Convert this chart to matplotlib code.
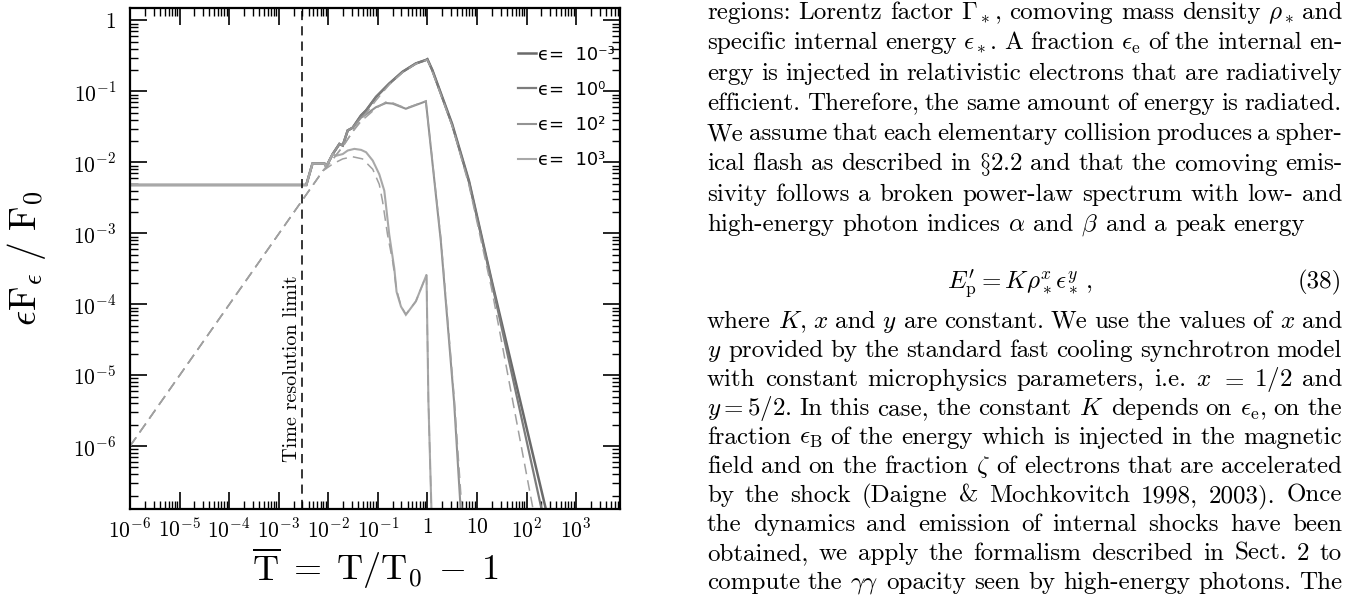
import numpy as np
import matplotlib

matplotlib.use("Agg")
import matplotlib.pyplot as plt
from matplotlib.ticker import FixedLocator, LogLocator, FuncFormatter, NullFormatter

plt.rcParams["mathtext.fontset"] = "cm"

W, H = 1358, 595

# --- light curves ---------------------------------------------------------
# shared early part of all solid curves (before the time resolution limit)
t_early = [1e-6, 3.6e-3, 4.8e-3, 8.4e-3, 9.1e-3, 0.0123]
f_early = [4.8e-3, 4.8e-3, 9.6e-3, 9.6e-3, 8.7e-3, 0.0131]

t_e3m = [0.0168, 0.0196, 0.0247, 0.0311, 0.0459, 0.058, 0.092, 0.17, 0.315,
         0.586, 0.93, 1.0, 1.26, 3.15, 6.9, 20.0, 300.0]
f_e3m = [0.0182, 0.0173, 0.0282, 0.0308, 0.0459, 0.054, 0.0836, 0.129, 0.189,
         0.248, 0.277, 0.285, 0.2, 0.035, 5.5e-3, 2.1e-4, 7.2e-8]

t_e0 = [0.0168, 0.0196, 0.0247, 0.0311, 0.0459, 0.058, 0.092, 0.17, 0.315,
        0.586, 0.93, 1.0, 1.26, 3.15, 6.9, 20.0, 250.0]
f_e0 = [0.0182, 0.0173, 0.0282, 0.0308, 0.0459, 0.054, 0.0836, 0.129, 0.189,
        0.248, 0.277, 0.283, 0.198, 0.034, 5.3e-3, 2.0e-4, 6.5e-8]

t_e2 = [0.0168, 0.0196, 0.0247, 0.0311, 0.0459, 0.058, 0.092, 0.146, 0.199,
        0.368, 0.933, 1.87, 3.46, 4.72]
f_e2 = [0.0182, 0.0173, 0.0282, 0.0308, 0.0427, 0.0475, 0.060, 0.0687, 0.0673,
        0.057, 0.0726, 7.7e-4, 4.2e-6, 1.2e-7]

t_e3 = [0.0144, 0.0196, 0.0247, 0.0337, 0.046, 0.058, 0.079, 0.107, 0.135,
        0.145, 0.170, 0.215, 0.239, 0.293, 0.368, 0.586, 0.96, 1.05, 1.21]
f_e3 = [0.0124, 0.0131, 0.0147, 0.0155, 0.015, 0.0139, 0.0106, 6.8e-3, 4e-3,
        2.6e-3, 9.6e-4, 3.2e-4, 1.5e-4, 9.3e-5, 7.1e-5, 1.1e-4, 2.6e-4, 4.2e-6, 1.2e-7]

# dashed curves
t_dash_early = [1e-6, 7.8e-3]
f_dash_early = [1e-6, 7.6e-3]
t_dash_a = [0.0123, 0.02, 0.031, 0.046, 0.092, 0.17, 0.315, 0.586, 1.0, 1.26,
            3.2, 6.9, 20.0, 160.0]
f_dash_a = [0.011, 0.017, 0.027, 0.04, 0.075, 0.125, 0.185, 0.245, 0.28, 0.19,
            0.032, 4.8e-3, 1.6e-4, 7e-8]
t_dash_b = [0.0123, 0.02, 0.031, 0.046, 0.092, 0.146, 0.199, 0.368, 0.93, 1.87,
            3.46, 5.0]
f_dash_b = [0.011, 0.017, 0.027, 0.038, 0.058, 0.071, 0.069, 0.058, 0.073,
            8.5e-4, 5e-6, 1.2e-7]
t_dash_c = [0.0123, 0.0196, 0.031, 0.049, 0.079, 0.107, 0.125, 0.157, 0.2,
            0.239, 0.293, 0.368, 0.586, 0.96, 1.05, 1.21]
f_dash_c = [9.5e-3, 0.0112, 0.012, 0.0112, 8e-3, 4.9e-3, 2.8e-3, 9.6e-4, 4e-4,
            1.6e-4, 9.5e-5, 7.2e-5, 1.1e-4, 2.6e-4, 4.2e-6, 1.2e-7]

labels = ["ϵ=  10⁻³", "ϵ=  10⁰", "ϵ=  10²", "ϵ=  10³"]
colors = ["#6a6a6a", "#7c7c7c", "#939393", "#a8a8a8"]
x_decades = 10.0 ** np.arange(-6, 4)
y_decades = 10.0 ** np.arange(-6, 1)
T_LIMIT = 3.0e-3

fig = plt.figure(figsize=(W / 100, H / 100), dpi=100)
ax = fig.add_axes([130 / W, 1 - 509 / H, 490 / W, 501 / H])

for tt, ff, c, lab, lw in zip([t_e3m, t_e0, t_e2, t_e3], [f_e3m, f_e0, f_e2, f_e3],
                             colors, labels, [1.8, 1.6, 1.5, 1.5]):
    ax.plot(t_early + tt, f_early + ff, color=c, lw=lw, label=lab, solid_joinstyle="miter")

for tt, ff in zip([t_dash_a, t_dash_b, t_dash_c], [f_dash_a, f_dash_b, f_dash_c]):
    ax.plot(t_dash_early + tt, f_dash_early + ff, color="#a0a0a0", lw=1.1, ls=(0, (7, 4)))

ax.axvline(T_LIMIT, color="black", lw=1.1, ls=(0, (6, 4)))
ax.text(T_LIMIT * 0.62, 6.0e-7, "Time resolution limit", rotation=90, ha="center",
        va="bottom", family="cmr10", fontsize=14.5)

ax.set_xscale("log")
ax.set_yscale("log")
ax.set_xlim(1e-6, 7.7e3)
ax.set_ylim(1.3e-7, 1.5)


def decade(v, pos):
    e = int(round(np.log10(v)))
    if e == 0:
        return "$1$"
    if e == 1:
        return "$10$"
    return r"$10^{%d}$" % e


for axis, dec in ((ax.xaxis, x_decades), (ax.yaxis, y_decades)):
    axis.set_major_locator(FixedLocator(dec))
    axis.set_minor_locator(LogLocator(base=10, subs=np.arange(2, 10), numticks=200))
    axis.set_major_formatter(FuncFormatter(decade))
    axis.set_minor_formatter(NullFormatter())

ax.tick_params(which="both", direction="in", top=True, right=True, labelsize=15.5)
ax.tick_params(which="major", length=12, width=1.2)
ax.tick_params(which="minor", length=6, width=1.0)
ax.tick_params(axis="x", pad=6)
ax.tick_params(axis="y", pad=10)
for sp in ax.spines.values():
    sp.set_linewidth(1.6)

ax.set_xlabel(r"$\overline{\rm T}\;=\;{\rm T}/{\rm T}_0\;-\;1$", fontsize=26, labelpad=3)
ax.set_ylabel(r"$\epsilon{\rm F}_\epsilon\ /\ {\rm F}_0$", fontsize=27, labelpad=18)

leg = ax.legend(loc="upper right", bbox_to_anchor=(0.99, 0.925), frameon=False,
                handlelength=1.0, handletextpad=0.15, labelspacing=0.95,
                borderpad=0, borderaxespad=0, prop={"family": "DejaVu Sans", "size": 13})

# --- the page text next to the figure --------------------------------------
X0, X1 = 707, 1342
BODY = 18
para1 = [
    r"regions: Lorentz factor $\Gamma_*$, comoving mass density $\rho_*$ and",
    r"specific internal energy $\epsilon_*$. A fraction $\epsilon_\mathrm{e}$ of the internal en-",
    r"ergy is injected in relativistic electrons that are radiatively",
    r"efficient. Therefore, the same amount of energy is radiated.",
    r"We assume that each elementary collision produces a spher-",
    r"ical flash as described in $\S$2.2 and that the comoving emis-",
    r"sivity follows a broken power-law spectrum with low- and",
    r"high-energy photon indices $\alpha$ and $\beta$ and a peak energy",
]
para2 = [
    r"where $K$, $x$ and $y$ are constant. We use the values of $x$ and",
    r"$y$ provided by the standard fast cooling synchrotron model",
    r"with constant microphysics parameters, i.e. $x$ $=$ $1/2$ and",
    r"$y=5/2$. In this case, the constant $K$ depends on $\epsilon_\mathrm{e}$, on the",
    r"fraction $\epsilon_\mathrm{B}$ of the energy which is injected in the magnetic",
    r"field and on the fraction $\zeta$ of electrons that are accelerated",
    r"by the shock (Daigne & Mochkovitch 1998, 2003). Once",
    r"the dynamics and emission of internal shocks have been",
    r"obtained, we apply the formalism described in Sect. 2 to",
    r"compute the $\gamma\gamma$ opacity seen by high-energy photons. The",
]

renderer = fig.canvas.get_renderer()


def put_line(s, y_base, justify=True):
    words = s.split(" ")
    texts = [fig.text(0, 1 - y_base / H, w, fontsize=BODY, family="cmr10", va="baseline")
             for w in words]
    widths = [t.get_window_extent(renderer).width for t in texts]
    gap = (X1 - X0 - sum(widths)) / (len(words) - 1) if justify else 8.0
    x = X0
    for t, w in zip(texts, widths):
        t.set_x(x / W)
        x += w + gap


for i, s in enumerate(para1):
    put_line(s, 19 + 30.3 * i, justify=i < len(para1) - 1)
fig.text(1020 / W, 1 - 288 / H, r"$E_\mathrm{p}^{\prime}=K\rho_*^x\epsilon_*^y\,,$", fontsize=BODY,
         ha="center", va="baseline")
fig.text(X1 / W, 1 - 288 / H, "(38)", fontsize=BODY, family="cmr10", ha="right", va="baseline")
for i, s in enumerate(para2):
    put_line(s, 328 + 29.0 * i)

fig.savefig("out.png", dpi=100)
